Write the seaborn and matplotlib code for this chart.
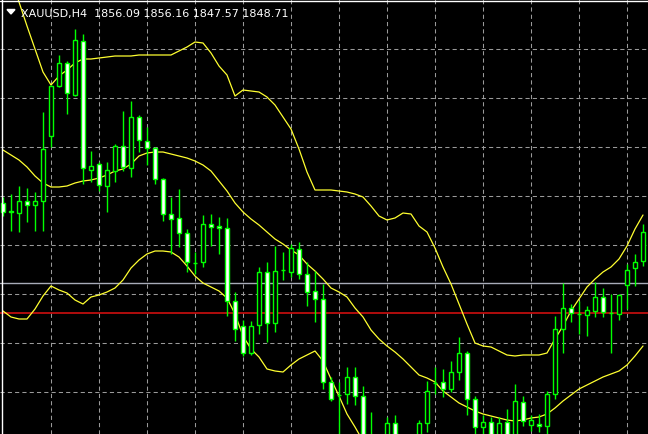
import numpy as np
import pandas as pd
import matplotlib
matplotlib.use("Agg")
import matplotlib.pyplot as plt
import seaborn as sns
from matplotlib.patches import Polygon
from matplotlib.transforms import IdentityTransform

# XAUUSD H4 candles (index 0 = leftmost bar)
opens = [1856.7, 1855.9, 1855.7, 1856.9, 1856.5, 1856.9, 1863.4, 1868.4, 1870.7, 1867.5,
         1872.9, 1860.0, 1860.6, 1858.4, 1859.9, 1862.4, 1860.2, 1865.3, 1862.9, 1862.2,
         1859.1, 1855.6, 1855.2, 1853.7, 1850.7, 1850.8, 1854.6, 1854.4, 1854.2, 1846.9,
         1844.4, 1841.7, 1844.5, 1849.8, 1844.7, 1850.0, 1849.8, 1852.1, 1849.6, 1847.9,
         1847.1, 1838.8, 1837.5, 1837.6, 1839.3, 1837.4, 1832.6, 1831.9, 1832.6, 1834.7,
         1832.3, 1831.6, 1832.6, 1834.7, 1838.7, 1838.8, 1838.1, 1839.8, 1841.7, 1837.1,
         1834.3, 1834.8, 1833.1, 1834.8, 1833.3, 1836.8, 1834.5, 1834.6, 1834.4, 1837.6,
         1844.1, 1846.2, 1845.6, 1845.5, 1845.9, 1847.3, 1845.7, 1845.6, 1848.5, 1850.2,
         1850.9]
highs = [1857.3, 1857.6, 1858.4, 1858.2, 1857.8, 1865.8, 1868.5, 1871.5, 1870.9, 1874.1,
         1873.6, 1861.9, 1860.8, 1860.8, 1862.6, 1865.9, 1866.9, 1865.5, 1864.3, 1862.3,
         1859.2, 1857.3, 1858.1, 1854.1, 1851.8, 1855.5, 1855.6, 1855.3, 1855.2, 1847.8,
         1845.0, 1844.9, 1850.3, 1850.8, 1852.4, 1851.8, 1852.6, 1852.8, 1850.8, 1849.9,
         1848.6, 1839.3, 1838.8, 1840.3, 1840.3, 1838.4, 1835.8, 1833.1, 1835.3, 1835.5,
         1833.3, 1833.1, 1835.0, 1838.9, 1840.3, 1840.1, 1840.9, 1843.3, 1841.9, 1837.4,
         1835.5, 1835.3, 1835.3, 1836.1, 1838.6, 1837.4, 1835.5, 1835.6, 1837.9, 1845.4,
         1848.7, 1846.6, 1846.9, 1846.4, 1848.8, 1848.2, 1847.6, 1847.6, 1850.6, 1851.6,
         1854.6]
lows = [1855.4, 1853.9, 1853.8, 1854.8, 1853.9, 1853.9, 1862.3, 1868.3, 1865.6, 1867.4,
        1858.6, 1858.8, 1857.9, 1855.8, 1858.8, 1859.9, 1859.3, 1861.8, 1860.5, 1858.6,
        1854.9, 1851.6, 1852.3, 1849.8, 1849.6, 1850.3, 1852.4, 1851.6, 1845.4, 1842.9,
        1841.4, 1841.5, 1843.6, 1842.8, 1843.8, 1849.0, 1849.3, 1849.1, 1846.4, 1844.8,
        1838.1, 1836.9, 1833.1, 1836.6, 1836.5, 1831.9, 1830.9, 1830.1, 1832.1, 1831.6,
        1830.6, 1830.9, 1832.1, 1833.8, 1837.6, 1837.3, 1837.8, 1839.0, 1835.5, 1833.5,
        1833.5, 1832.3, 1832.6, 1832.6, 1832.9, 1834.4, 1833.9, 1833.8, 1833.6, 1837.1,
        1841.7, 1844.8, 1843.6, 1843.4, 1845.3, 1845.3, 1841.7, 1845.0, 1846.1, 1848.4,
        1850.4]
closes = [1855.8, 1855.8, 1856.9, 1856.5, 1856.9, 1862.1, 1868.4, 1870.7, 1867.7, 1873.0,
          1860.2, 1860.4, 1858.5, 1860.0, 1862.4, 1860.3, 1865.3, 1863.0, 1862.2, 1859.1,
          1855.6, 1855.1, 1853.7, 1850.8, 1850.7, 1854.6, 1854.3, 1854.2, 1846.9, 1844.1,
          1841.7, 1844.4, 1849.8, 1844.7, 1849.9, 1850.0, 1852.2, 1849.6, 1847.8, 1847.1,
          1838.8, 1837.1, 1837.5, 1839.3, 1837.4, 1832.6, 1831.9, 1830.9, 1834.7, 1832.3,
          1831.6, 1832.6, 1834.7, 1837.9, 1838.7, 1838.1, 1839.8, 1841.7, 1837.1, 1834.3,
          1834.8, 1833.1, 1834.7, 1833.3, 1836.9, 1834.9, 1835.0, 1834.4, 1837.6, 1844.1,
          1846.2, 1845.7, 1845.6, 1846.0, 1847.3, 1845.8, 1845.7, 1847.5, 1850.0, 1850.8,
          1853.8]

# Bollinger bands as drawn on the chart
bb_upper = [1881.1, 1879.1, 1876.8, 1874.4, 1872.1, 1869.8, 1868.5, 1869.4, 1870.0, 1870.7,
            1871.1, 1871.1, 1871.2, 1871.3, 1871.4, 1871.4, 1871.4, 1871.5, 1871.5, 1871.5,
            1871.5, 1871.5, 1871.9, 1872.3, 1872.8, 1872.7, 1871.7, 1870.4, 1869.5, 1867.4,
            1868.0, 1867.9, 1867.8, 1867.3, 1866.5, 1865.3, 1864.1, 1862.1, 1859.8, 1858.0,
            1858.0, 1858.0, 1857.9, 1857.8, 1857.6, 1857.3, 1856.4, 1855.4, 1855.0, 1855.2,
            1855.7, 1855.6, 1854.4, 1853.8, 1852.2, 1850.3, 1848.6, 1846.6, 1844.6, 1842.7,
            1842.4, 1842.3, 1841.9, 1841.5, 1841.4, 1841.5, 1841.5, 1841.5, 1841.7, 1843.1,
            1844.4, 1845.9, 1847.1, 1848.3, 1849.1, 1849.8, 1850.3, 1851.1, 1852.4, 1854.1,
            1855.5]
bb_middle = [1862.0, 1861.5, 1861.0, 1860.3, 1859.4, 1858.7, 1858.3, 1858.3, 1858.4, 1858.7,
             1858.9, 1859.0, 1859.2, 1859.5, 1859.9, 1860.1, 1860.6, 1861.4, 1861.7, 1861.8,
             1861.8, 1861.6, 1861.4, 1861.2, 1860.9, 1860.5, 1859.9, 1858.9, 1857.9, 1856.7,
             1855.8, 1855.1, 1854.5, 1853.8, 1853.1, 1852.6, 1852.0, 1851.5, 1850.6, 1849.9,
             1849.1, 1848.2, 1847.8, 1847.3, 1846.2, 1845.3, 1844.0, 1843.1, 1842.4, 1841.8,
             1841.1, 1840.3, 1839.5, 1839.2, 1838.8, 1837.9, 1837.3, 1836.7, 1836.3, 1835.9,
             1835.6, 1835.4, 1835.2, 1835.0, 1834.9, 1835.0, 1835.2, 1835.3, 1835.6, 1836.2,
             1836.9, 1837.5, 1838.1, 1838.5, 1838.9, 1839.3, 1839.6, 1839.9, 1840.5, 1841.4,
             1842.4]
bb_lower = [1845.9, 1845.3, 1845.1, 1845.1, 1846.1, 1847.4, 1848.4, 1848.0, 1847.7, 1847.0,
            1846.6, 1847.3, 1847.5, 1847.8, 1848.2, 1849.0, 1850.2, 1851.0, 1851.6, 1851.9,
            1851.9, 1851.8, 1851.3, 1850.4, 1849.4, 1848.7, 1848.3, 1847.9, 1847.2, 1845.6,
            1843.4, 1842.1, 1841.3, 1840.1, 1839.9, 1839.8, 1840.5, 1841.1, 1841.5, 1841.9,
            1840.9, 1839.1, 1837.4, 1835.6, 1834.3, 1832.9, 1831.6]

bid_price = 1848.71
level_price = 1845.7
title = "XAUUSD,H4  1856.09 1856.16 1847.57 1848.71"

idx = np.arange(len(opens))
df = pd.DataFrame({"bar": idx, "open": opens, "high": highs, "low": lows, "close": closes})
bands = pd.DataFrame({"bar": idx, "upper": bb_upper, "middle": bb_middle})
lower = pd.DataFrame({"bar": np.arange(len(bb_lower)), "lower": bb_lower})

sns.set_style("dark")
plt.rcParams["font.family"] = ["DejaVu Sans"]

fig = plt.figure(figsize=(6.48, 4.35), dpi=100, facecolor="black")
ax = fig.add_axes([0, 0, 1, 1])
ax.set_facecolor("black")

lime = "#00ff00"
yellow = "#ffff30"

# grid
ax.set_xticks(np.arange(6, 81, 6))
ax.set_yticks(np.arange(1837.8, 1873.0, 4.9))
ax.grid(True, color="#9a9a9a", linestyle=(0, (4, 3)), linewidth=0.75)
ax.tick_params(length=0, labelbottom=False, labelleft=False)
for s in ax.spines.values():
    s.set_visible(False)

# horizontal lines
ax.axhline(bid_price, color="#a8acb8", lw=1.0, zorder=2)
ax.axhline(level_price, color="#e01010", lw=1.1, zorder=2)

# bollinger bands
sns.lineplot(data=bands, x="bar", y="upper", color=yellow, lw=0.9, ax=ax, zorder=3)
sns.lineplot(data=bands, x="bar", y="middle", color=yellow, lw=0.9, ax=ax, zorder=3)
sns.lineplot(data=lower, x="bar", y="lower", color=yellow, lw=0.9, ax=ax, zorder=3)

# candles
ax.vlines(df["bar"], df["low"], df["high"], color=lime, lw=1.0, zorder=4)
bull = df["close"] >= df["open"]
body_low = np.minimum(df["open"], df["close"])
body_h = (df["close"] - df["open"]).abs()
ax.bar(df["bar"][bull], body_h[bull], bottom=body_low[bull], width=0.5,
       color="black", edgecolor=lime, linewidth=1.0, zorder=5)
ax.bar(df["bar"][~bull], body_h[~bull], bottom=body_low[~bull], width=0.5,
       color="white", edgecolor=lime, linewidth=1.0, zorder=5)

ax.set_xlim(-0.375, 80.625)
ax.set_ylim(1833.6, 1877.1)
ax.set_xlabel("")
ax.set_ylabel("")

# window borders
ax.axvline(-0.125, color="white", lw=1.0, zorder=6)
ax.axhline(1876.95, color="white", lw=1.0, zorder=6)

# header
fig.add_artist(Polygon([[7, 435 - 10.5], [15, 435 - 10.5], [11, 435 - 15]],
                       closed=True, color="white", transform=IdentityTransform()))
fig.text(21 / 648, 1 - 17 / 435, title, color="white", fontsize=8,
         va="baseline", ha="left")

fig.savefig("out.png", dpi=100, facecolor="black")
